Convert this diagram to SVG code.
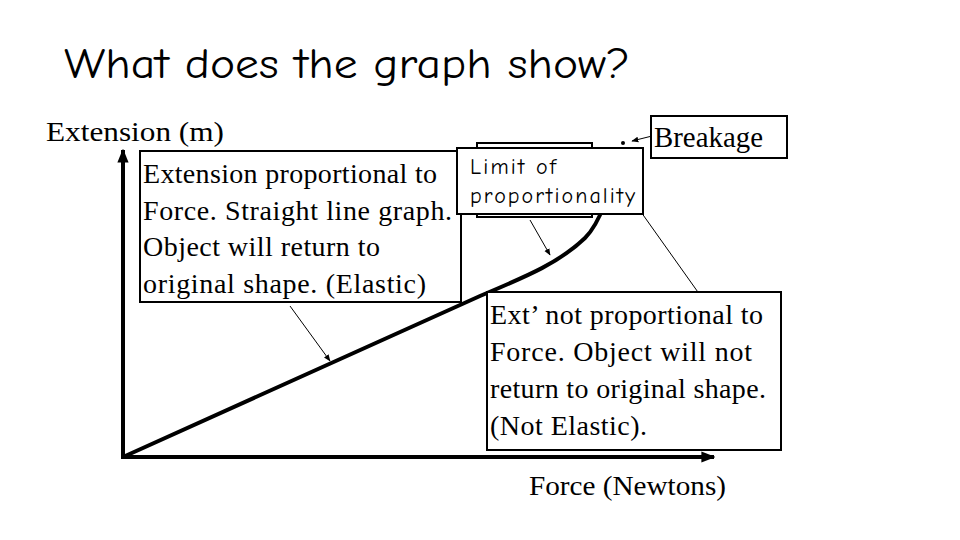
<svg xmlns="http://www.w3.org/2000/svg" width="960" height="540" viewBox="0 0 960 540">
<style>
.s{font-family:"Liberation Serif",serif;fill:#000}
.b{fill:#fff;stroke:#000;stroke-width:2}
.t{fill:none;stroke:#000;stroke-width:1}
</style>
<defs>
<marker id="a" viewBox="0 0 10 10" refX="9" refY="5" markerWidth="7" markerHeight="7" orient="auto"><path d="M0,1L10,5L0,9z"/></marker>
<marker id="A" viewBox="0 0 10 10" refX="9" refY="5" markerWidth="3.5" markerHeight="3.5" orient="auto"><path d="M0,1L10,5L0,9z"/></marker>
</defs>
<rect width="960" height="540" fill="#fff"/>
<text x="64" y="78" font-family="'Comic Neue','DejaVu Sans',sans-serif" font-size="42" textLength="566" lengthAdjust="spacingAndGlyphs">What does the graph show?</text>
<g id="axes">
<line x1="123" y1="457" x2="123" y2="150" stroke="#000" stroke-width="4" marker-end="url(#A)"/>
<line x1="121" y1="457" x2="714" y2="457" stroke="#000" stroke-width="4" marker-end="url(#A)"/>
<text class="s" x="46" y="141" font-size="28" textLength="178" lengthAdjust="spacingAndGlyphs">Extension (m)</text>
<text class="s" x="529" y="495" font-size="28" textLength="197" lengthAdjust="spacingAndGlyphs">Force (Newtons)</text>
</g>
<g id="curve">
<path d="M123,457 L480,296 C530,275 560,262 585,238 C603,220 612,185 618,150" fill="none" stroke="#000" stroke-width="4"/>
<circle cx="623" cy="143" r="2"/>
</g>
<g id="connectors">
<line class="t" x1="290" y1="306" x2="330" y2="361" marker-end="url(#a)"/>
<line class="t" x1="530" y1="220" x2="550" y2="255" marker-end="url(#a)"/>
<line class="t" x1="641" y1="212" x2="700" y2="295"/>
<line class="t" x1="652" y1="136" x2="632" y2="141" marker-end="url(#a)"/>
</g>
<g id="elastic">
<rect class="b" x="140" y="151" width="321" height="151"/>
<text class="s" font-size="28" lengthAdjust="spacingAndGlyphs"><tspan x="143" y="183" textLength="294">Extension proportional to</tspan><tspan x="143" y="220" textLength="309">Force.  Straight line graph.</tspan><tspan x="143" y="256" textLength="237">Object will return to</tspan><tspan x="143" y="293" textLength="283">original shape.  (Elastic)</tspan></text>
</g>
<g id="limit">
<rect class="b" x="477" y="143" width="115" height="74" stroke-width="1"/>
<rect class="b" x="457" y="148" width="186" height="66" stroke-width="1"/>
<text font-family="'Comic Neue','DejaVu Sans',sans-serif" font-size="22" lengthAdjust="spacingAndGlyphs"><tspan x="470" y="174" textLength="86">Limit of</tspan><tspan x="470" y="203" textLength="165">proportionality</tspan></text>
</g>
<g id="breakage">
<rect class="b" x="651" y="116" width="136" height="42"/>
<text class="s" x="654" y="147" font-size="29" textLength="109" lengthAdjust="spacingAndGlyphs">Breakage</text>
</g>
<g id="notelastic">
<rect class="b" x="487" y="292" width="294" height="158"/>
<text class="s" font-size="28" lengthAdjust="spacingAndGlyphs"><tspan x="490" y="324" textLength="273">Ext’ not proportional to</tspan><tspan x="490" y="361" textLength="262">Force.  Object will not</tspan><tspan x="490" y="398" textLength="276">return to original shape.</tspan><tspan x="490" y="435" textLength="157">(Not Elastic).</tspan></text>
</g>
</svg>
